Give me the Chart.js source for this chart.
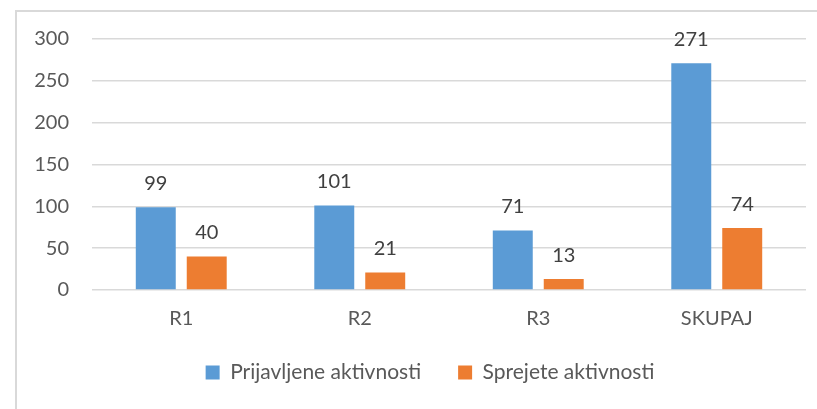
<!DOCTYPE html>
<html>
<head>
<meta charset="utf-8">
<script src="https://cdn.jsdelivr.net/npm/chart.js@4"></script>
<style>
  html, body { margin: 0; padding: 0; background: #fff; }
  #frame { position: absolute; left: 15px; top: 10px; width: 900px; height: 500px;
           border-left: 2px solid #d9d9d9; border-top: 2px solid #d9d9d9; }
  #wrap { position: absolute; left: 0; top: 0; width: 817px; height: 409px; }
</style>
</head>
<body>
<div id="frame"></div>
<div id="wrap"><canvas id="chart"></canvas></div>
<script>
var categories = ["R1", "R2", "R3", "SKUPAJ"];
var prijavljene = [99, 101, 71, 271];
var sprejete = [40, 21, 13, 74];
var seriesNames = ["Prijavljene aktivnosti", "Sprejete aktivnosti"];

var fontFamily = "Lato, 'Noto Sans', sans-serif";

// numbers above the bars
var valueLabels = {
    id: 'valueLabels',
    afterDatasetsDraw: function(chart) {
        var ctx = chart.ctx;
        ctx.save();
        ctx.font = "20px " + fontFamily;
        ctx.fillStyle = "#404040";
        ctx.textAlign = "center";
        ctx.textBaseline = "middle";
        chart.data.datasets.forEach(function(ds, i) {
            chart.getDatasetMeta(i).data.forEach(function(bar, j) {
                ctx.fillText(ds.data[j], bar.x, bar.y - 24);
            });
        });
        ctx.restore();
    }
};

// legend in the original is centred on the whole frame, a bit right of the plot
var legendShift = {
    id: 'legendShift',
    afterLayout: function(chart) {
        chart.legend.left += 27;
        chart.legend.right += 27;
    }
};

var ctx = document.getElementById("chart");
var chart = new Chart(ctx, {
    type: 'bar',
    data: {
        labels: categories,
        datasets: [
            {
                label: seriesNames[0],
                data: prijavljene,
                backgroundColor: "#5B9BD5",
                categoryPercentage: 0.571,
                barPercentage: 0.784
            },
            {
                label: seriesNames[1],
                data: sprejete,
                backgroundColor: "#ED7D31",
                categoryPercentage: 0.571,
                barPercentage: 0.784
            }
        ]
    },
    options: {
        responsive: true,
        maintainAspectRatio: false,
        animation: false,
        layout: { padding: { left: 0, right: 11, top: 39, bottom: 16 } },
        plugins: {
            legend: {
                position: 'bottom',
                labels: {
                    boxWidth: 14,
                    boxHeight: 14,
                    padding: 37,
                    color: "#595959",
                    font: { family: fontFamily, size: 21 }
                }
            },
            tooltip: { enabled: false }
        },
        scales: {
            x: {
                grid: { display: false, drawTicks: false },
                border: { display: false },
                ticks: { color: "#595959", padding: 17, font: { family: fontFamily, size: 20 } },
                afterFit: function(scale) { scale.height = 35; }
            },
            y: {
                min: 0,
                max: 300,
                grid: { color: "#d9d9d9", lineWidth: 1.5, drawTicks: false },
                border: { display: false },
                ticks: { stepSize: 50, color: "#595959", padding: 23, font: { family: fontFamily, size: 20 } },
                afterFit: function(scale) { scale.width = 92; }
            }
        }
    },
    plugins: [valueLabels, legendShift]
});
</script>
</body>
</html>
